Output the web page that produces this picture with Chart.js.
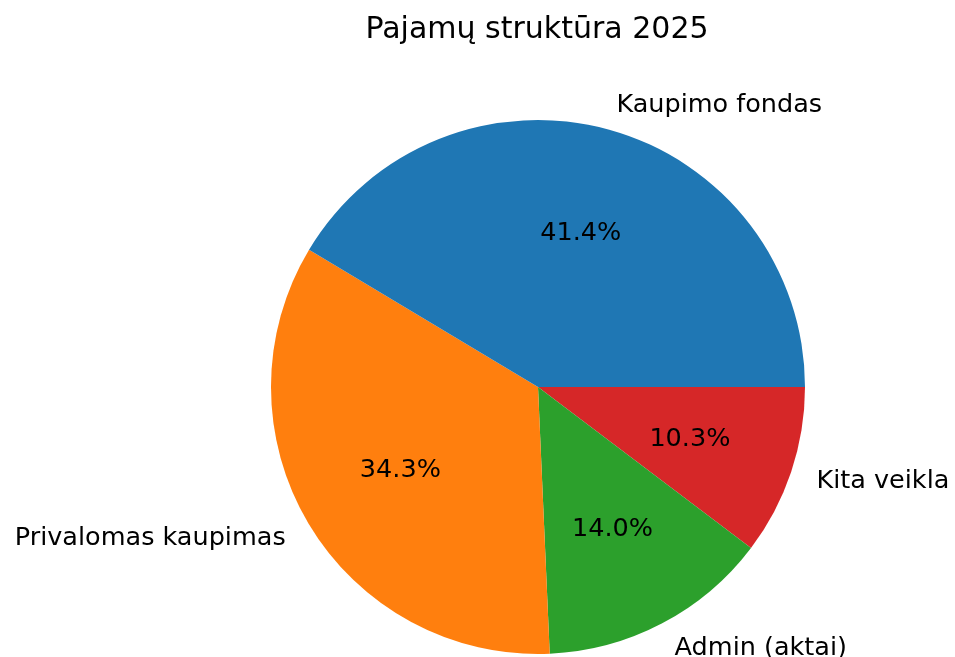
<!DOCTYPE html>
<html>
<head>
<meta charset="utf-8">
<script src="https://cdn.jsdelivr.net/npm/chart.js@4/dist/chart.umd.min.js"></script>
<style>
  body { margin: 0; background: #fff; }
  #pyragas { display: block; }
</style>
</head>
<body>
<canvas id="pyragas" width="955" height="657"></canvas>
<script>
const pavadinimas = "Pajamų struktūra 2025";
const kategorijos = ["Kaupimo fondas", "Privalomas kaupimas", "Admin (aktai)", "Kita veikla"];
const reiksmes = [41.4, 34.3, 14.0, 10.3];
const spalvos = ["#1f77b4", "#ff7f0e", "#2ca02c", "#d62728"];

// matplotlib goes counter-clockwise from 3 o'clock, chart.js clockwise -> reverse
const labels = kategorijos.slice().reverse();
const data = reiksmes.slice().reverse();
const colors = spalvos.slice().reverse();

const tekstai = {
  id: "tekstai",
  afterDraw(chart) {
    const c = chart.ctx;
    const meta = chart.getDatasetMeta(0);
    const total = data.reduce((a, b) => a + b, 0);
    c.save();
    c.fillStyle = "#000";
    c.font = "30px 'DejaVu Sans'";
    c.textAlign = "center";
    c.textBaseline = "alphabetic";
    c.fillText(pavadinimas, 537, 38);

    c.font = "25.5px 'DejaVu Sans'";
    c.textBaseline = "middle";
    meta.data.forEach((arc, i) => {
      const p = arc.getProps(["x", "y", "startAngle", "endAngle", "outerRadius"], true);
      const mid = (p.startAngle + p.endAngle) / 2;
      const cs = Math.cos(mid), sn = Math.sin(mid);
      // outer label
      c.textAlign = cs >= 0 ? "left" : "right";
      c.fillText(labels[i], p.x + cs * p.outerRadius * 1.1, p.y + sn * p.outerRadius * 1.1 + 1);
      // percent
      c.textAlign = "center";
      const pct = (data[i] / total * 100).toFixed(1) + "%";
      c.fillText(pct, p.x + cs * p.outerRadius * 0.6, p.y + sn * p.outerRadius * 0.6 + 1);
    });
    c.restore();
  }
};

new Chart(document.getElementById("pyragas"), {
  type: "pie",
  data: {
    labels: labels,
    datasets: [{
      data: data,
      backgroundColor: colors,
      borderWidth: 0
    }]
  },
  options: {
    responsive: false,
    animation: false,
    rotation: 90,
    layout: {
      padding: { left: 271, right: 150, top: 120, bottom: 3 }
    },
    plugins: {
      legend: { display: false },
      title: { display: false },
      tooltip: { enabled: false }
    },
    events: []
  },
  plugins: [tekstai]
});
</script>
</body>
</html>
